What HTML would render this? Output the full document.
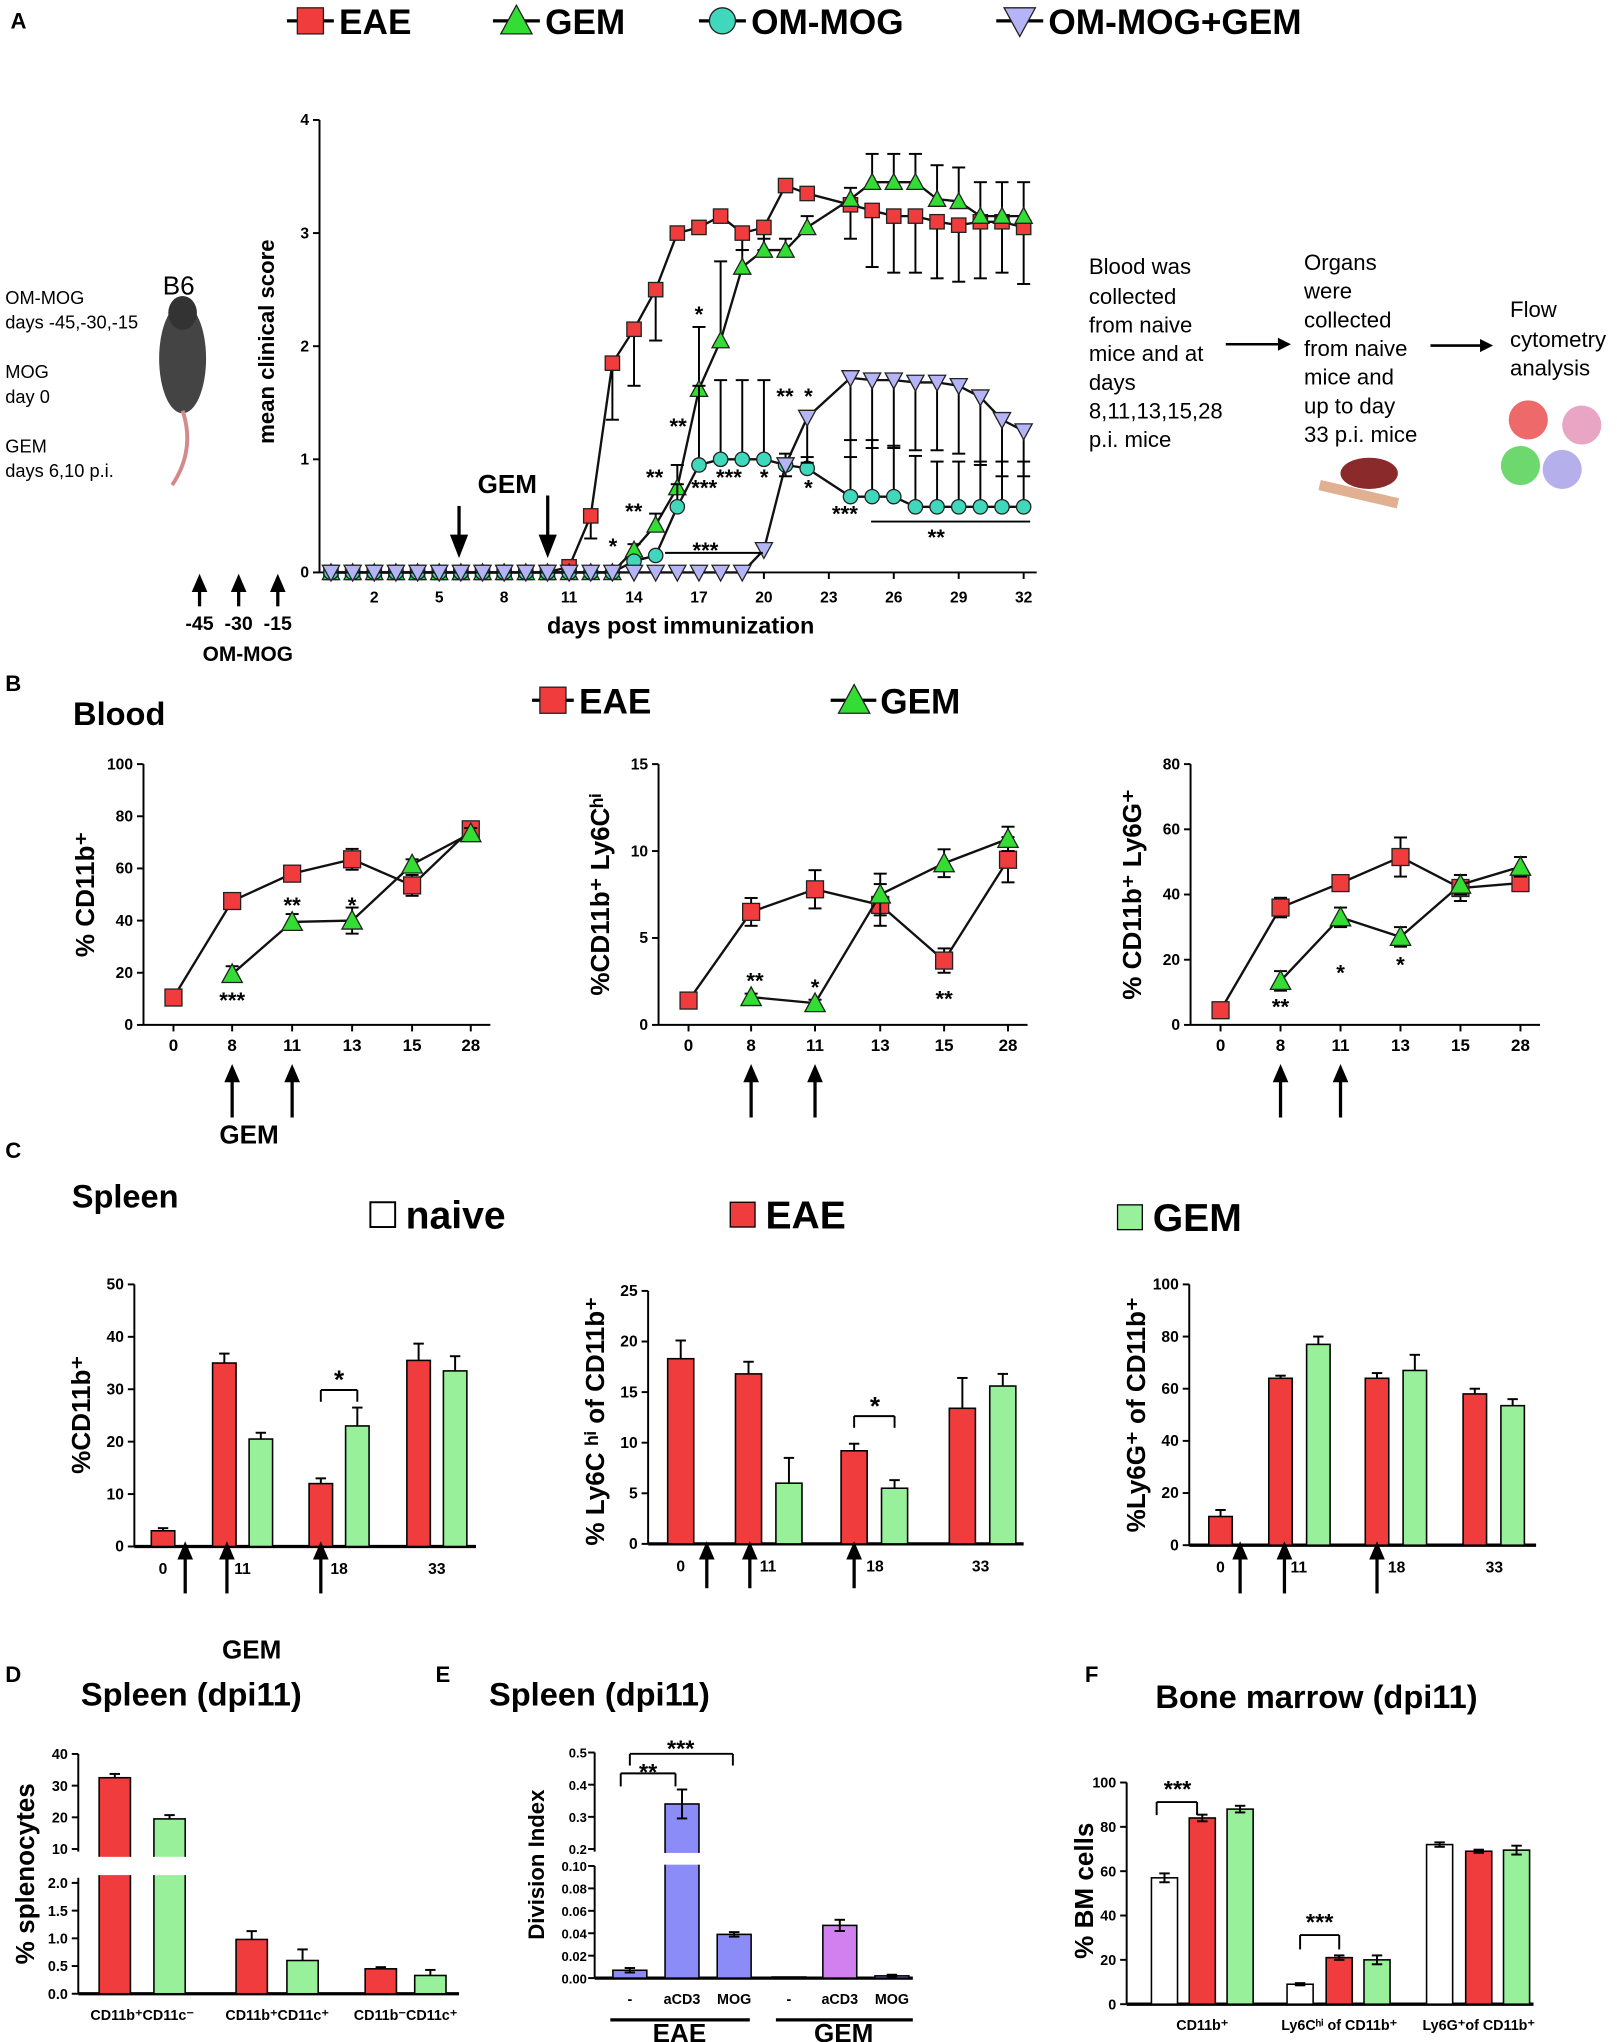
<!DOCTYPE html>
<html><head><meta charset="utf-8">
<style>
html,body{margin:0;padding:0;background:#fff;}
svg{display:block;font-family:"Liberation Sans",Arial,sans-serif;}
</style></head>
<body>
<svg id="fig" xmlns="http://www.w3.org/2000/svg" width="1617" height="2042" viewBox="0 0 1240 1566"></svg>
<script>
// ===== Panel A data =====
const daysA = [0,1,2,3,4,5,6,7,8,9,10,11,12,13,14,15,16,17,18,19,20,21,22,24,25,26,27,28,29,30,31,32];
const eaeA = [0,0,0,0,0,0,0,0,0,0,0,0.05,0.5,1.85,2.15,2.5,3.0,3.05,3.15,3.0,3.05,3.42,3.35,3.25,3.2,3.15,3.15,3.1,3.07,3.1,3.1,3.05];
const eaeErrA = [0,0,0,0,0,0,0,0,0,0,0,0.05,0.2,0.5,0.5,0.45,0.05,0.05,0.05,0.15,0.2,0.05,0.05,0.3,0.5,0.5,0.5,0.5,0.5,0.5,0.45,0.5];
const gemA = [0,0,0,0,0,0,0,0,0,0,0,0,0,0,0.2,0.42,0.75,1.62,2.05,2.7,2.85,2.85,3.05,3.3,3.45,3.45,3.45,3.3,3.28,3.15,3.15,3.15];
const gemErrA = [0,0,0,0,0,0,0,0,0,0,0,0,0,0,0.05,0.1,0.2,0.55,0.7,0.15,0.1,0.1,0.1,0.1,0.25,0.25,0.25,0.3,0.3,0.3,0.3,0.3];
const omA = [0,0,0,0,0,0,0,0,0,0,0,0,0,0,0.1,0.15,0.58,0.95,1.0,1.0,1.0,0.95,0.92,0.67,0.67,0.67,0.58,0.58,0.58,0.58,0.58,0.58];
const omErrA = [0,0,0,0,0,0,0,0,0,0,0,0,0,0,0,0,0.2,0.7,0.7,0.7,0.7,0.1,0.1,0.5,0.5,0.45,0.45,0.4,0.4,0.4,0.4,0.4];
const omgA = [0,0,0,0,0,0,0,0,0,0,0,0,0,0,0,0,0,0,0,0,0.2,0.95,1.37,1.72,1.7,1.7,1.68,1.68,1.65,1.55,1.35,1.25];
const omgErrA = [0,0,0,0,0,0,0,0,0,0,0,0,0,0,0,0,0,0,0,0,0,0.1,0.4,0.7,0.6,0.6,0.6,0.6,0.6,0.6,0.5,0.4];
const xTicksA = [2,5,8,11,14,17,20,23,26,29,32];
const yTicksA = [0,1,2,3,4];
// ===== Panel B data =====
const catsB = ['0','8','11','13','15','28'];
const b1EAE = [10.5,47.5,58,63.5,53.5,75];  const b1EAEerr=[1,2,2,4,4,2];
const b1GEM = [null,19.5,39.5,40,61.5,73.5]; const b1GEMerr=[0,3,3,5,2,2];
const b2EAE = [1.4,6.5,7.8,6.9,3.7,9.5];   const b2EAEerr=[0.2,0.8,1.1,1.2,0.7,1.3];
const b2GEM = [null,1.6,1.25,7.5,9.3,10.7];  const b2GEMerr=[0,0.2,0.2,1.2,0.8,0.7];
const b3EAE = [4.5,36,43.5,51.5,42,43.5];  const b3EAEerr=[1,3,2,6,4,2];
const b3GEM = [null,13.5,33,27,43,48.5];    const b3GEMerr=[0,3,3,3,3,3];
const b1Ticks=[0,20,40,60,80,100], b2Ticks=[0,5,10,15], b3Ticks=[0,20,40,60,80];
// ===== Panel C data =====
const catsC = ['0','11','18','33'];
const c1Naive=[3], c1EAE=[null,35,12,35.5], c1GEM=[null,20.5,23,33.5];
const c1EAEerr=[0.5,1.8,1,3.2], c1GEMerr=[0,1.2,3.5,2.8];
const c2EAE=[18.3,16.8,9.2,13.4], c2GEM=[null,6,5.5,15.6];
const c2EAEerr=[1.8,1.2,0.7,3], c2GEMerr=[0,2.5,0.8,1.2];
const c3EAE=[11,64,64,58], c3GEM=[null,77,67,53.5];
const c3EAEerr=[2.5,1,2,2], c3GEMerr=[0,3,6,2.5];
const c1Ticks=[0,10,20,30,40,50], c2Ticks=[0,5,10,15,20,25], c3Ticks=[0,20,40,60,80,100];
// ===== Panel D/E/F data =====
const catsD=['CD11b⁺CD11c⁻','CD11b⁺CD11c⁺','CD11b⁻CD11c⁺'];
const dEAE=[32.5,0.98,0.45], dGEM=[19.5,0.6,0.33];
const dEAEerr=[1.2,0.15,0.03], dGEMerr=[1.2,0.2,0.1];
const catsE=['-','aCD3','MOG','-','aCD3','MOG'];
const eVals=[0.007,0.34,0.039,0.001,0.047,0.002];
const eErr=[0.002,0.045,0.002,0,0.005,0.001];
const catsF=['CD11b⁺','Ly6Cʰⁱ of CD11b⁺','Ly6G⁺of CD11b⁺'];
const fNaive=[57,9,72], fEAE=[84,21,69], fGEM=[88,20,69.5];
const fNaiveErr=[2,0.5,1], fEAEerr=[1.5,1,0.7], fGEMerr=[1.5,2,2];

const NS='http://www.w3.org/2000/svg';
const svg=document.getElementById('fig');
const RED='#f03c3c', LG='#98f09a', TRI='#33dd33', TURQ='#40d8bc', LAV='#b4b4f6', BLUE='#8c8cf8', PURP='#d27ff0';
function mk(tag,a,name,p){const e=document.createElementNS(NS,tag);for(const k in a)e.setAttribute(k,a[k]);


(p||svg).appendChild(e);return e;}
function line(x1,y1,x2,y2,w,name,c){return mk('line',{x1,y1,x2,y2,stroke:c||'#000','stroke-width':w||1.5},name);}
function text(x,y,s,size,name,o){o=o||{};const t=mk('text',{x,y,'font-size':size,'font-weight':o.w||'bold','text-anchor':o.a||'middle',fill:o.f||'#000'},name);
if(o.rot)t.setAttribute('transform','rotate(-90 '+x+' '+y+')');t.textContent=s;return t;}
function marker(type,x,y,s,fill,name){
 if(type==='sq')return mk('rect',{x:x-s,y:y-s,width:2*s,height:2*s,fill,stroke:'#222','stroke-width':1},name);
 if(type==='up')return mk('polygon',{points:`${x},${y-s*1.2} ${x-s*1.2},${y+s} ${x+s*1.2},${y+s}`,fill,stroke:'#222','stroke-width':1},name);
 if(type==='dn')return mk('polygon',{points:`${x-s*1.2},${y-s} ${x+s*1.2},${y-s} ${x},${y+s*1.2}`,fill,stroke:'#222','stroke-width':1},name);
 return mk('circle',{cx:x,cy:y,r:s,fill,stroke:'#222','stroke-width':1},name);}
function errbar(x,y1,y2,cap,name){if(Math.abs(y2-y1)<0.5)return;line(x,y1,x,y2,1.5,name);line(x-cap,y2,x+cap,y2,1.5,name+'-cap');}
function arrow(x,y1,y2,name){line(x,y1,x,y2+4,2.5,name);mk('polygon',{points:`${x-6},${y2+12} ${x+6},${y2+12} ${x},${y2-2}`,fill:'#000'},name+'-head');}
function arrowDown(x,y1,y2,name){line(x,y1,x,y2-6,2.5,name);mk('polygon',{points:`${x-7},${y2-16} ${x+7},${y2-16} ${x},${y2+2}`,fill:'#000'},name+'-head');}
function yAxis(x,yTop,yBot,ticks,scale,name,fs){line(x,yTop,x,yBot,1.5,name);ticks.forEach(t=>{const y=scale(t);line(x-5,y,x,y,1.5,name+'-tick');text(x-8,y+4,String(t),fs||11,name+'-label',{a:'end'});});}

// ===== Panel labels =====
text(8,22,'A',17,'panel-a-label',{a:'start'});
text(4,530,'B',17,'panel-b-label',{a:'start'});
text(4,888,'C',17,'panel-c-label',{a:'start'});
text(4,1290,'D',17,'panel-d-label',{a:'start'});
text(334,1290,'E',17,'panel-e-label',{a:'start'});
text(832,1290,'F',17,'panel-f-label',{a:'start'});

// ===== Panel A legend =====
[['sq',RED,'EAE',220],['up',TRI,'GEM',378],['ci',TURQ,'OM-MOG',536],['dn',LAV,'OM-MOG+GEM',764]].forEach(l=>{
 line(l[3],16,l[3]+36,16,2.5,'legend-line');marker(l[0],l[3]+18,16,10,l[1],'legend-marker');
 text(l[3]+40,26,l[2],27,'legend-entry',{a:'start'});});

// ===== Panel A chart =====
const xA=d=>253.8+d*16.6, yA=v=>439-v*86.75;
yAxis(245,92,439,yTicksA,yA,'a-y-axis',12);
line(245,439,795,439,1.5,'a-x-axis');
xTicksA.forEach(t=>{line(xA(t),439,xA(t),444,1.5,'a-x-tick');text(xA(t),462,String(t),12,'a-x-label');});
text(210,262,'mean clinical score',17,'a-y-title',{rot:true});
text(522,486,'days post immunization',18,'a-x-title');
function seriesA(vals,errs,type,fill,name,dir){
 const pts=daysA.map((d,i)=>xA(d)+','+yA(vals[i])).join(' ');
 mk('polyline',{points:pts,fill:'none',stroke:'#111','stroke-width':1.8},name+'-line');
 daysA.forEach((d,i)=>{if(errs[i]>0)errbar(xA(d),yA(vals[i]),yA(vals[i]+dir*errs[i]),5,name+'-err');});
 daysA.forEach((d,i)=>marker(type,xA(d),yA(vals[i]),5.5,fill,name+'-point'));}
seriesA(eaeA,eaeErrA,'sq',RED,'eae-series',-1);
seriesA(gemA,gemErrA,'up',TRI,'gem-series',1);
seriesA(omA,omErrA,'ci',TURQ,'om-mog-series',1);
seriesA(omgA,omgErrA,'dn',LAV,'om-mog-gem-series',-1);
arrowDown(352,388,426,'gem-arrow');arrowDown(420,380,426,'gem-arrow');
text(389,378,'GEM',20,'gem-annotation');
[[470,425,'*'],[486,398,'**'],[502,372,'**'],[520,333,'**'],[536,247,'*'],[540,380,'***'],[559,372,'***'],[586,372,'*'],[602,310,'**'],[620,310,'*'],[620,380,'*'],[648,400,'***'],[718,418,'**'],[541,428,'***']].forEach(s=>text(s[0],s[1],s[2],17,'significance-star'));
line(510,424,585,424,1.5,'sig-bracket');line(668,400,790,400,1.5,'sig-bracket');
// left annotations
mk('ellipse',{cx:140,cy:275,rx:18,ry:42,fill:'#444'},'mouse-body');
mk('ellipse',{cx:140,cy:240,rx:11,ry:13,fill:'#333'},'mouse-head');
mk('path',{d:'M140 315 Q150 345 132 372',fill:'none',stroke:'#d48a8a','stroke-width':3},'mouse-tail');
text(137,226,'B6',20,'mouse-strain',{w:'normal'});
[['OM-MOG',233],['days -45,-30,-15',252],['MOG',290],['day 0',309],['GEM',347],['days 6,10 p.i.',366]].forEach(l=>text(4,l[1],l[0],14,'protocol-text',{a:'start',w:'normal'}));
[[153,'-45'],[183,'-30'],[213,'-15']].forEach(a=>{arrow(a[0],465,442,'om-mog-arrow');text(a[0],483,a[1],15,'om-mog-day');});
text(190,507,'OM-MOG',16,'om-mog-label');
// right annotations
[['Blood was',210],['collected',233],['from naive',255],['mice and at',277],['days',299],['8,11,13,15,28',321],['p.i. mice',343]].forEach(l=>text(835,l[1],l[0],17,'blood-text',{a:'start',w:'normal'}));
[['Organs',207],['were',229],['collected',251],['from naive',273],['mice and',295],['up to day',317],['33 p.i. mice',339]].forEach(l=>text(1000,l[1],l[0],17,'organs-text',{a:'start',w:'normal'}));
[['Flow',243],['cytometry',266],['analysis',288]].forEach(l=>text(1158,l[1],l[0],17,'flow-text',{a:'start',w:'normal'}));
line(940,264,980,264,2,'flow-arrow');mk('polygon',{points:'980,259 990,264 980,269',fill:'#000'},'flow-arrow-head');
line(1097,265,1135,265,2,'flow-arrow');mk('polygon',{points:'1135,260 1145,265 1135,270',fill:'#000'},'flow-arrow-head');
mk('ellipse',{cx:1050,cy:363,rx:22,ry:12,fill:'#8b2a2a'},'spleen-icon');
mk('path',{d:'M1012 372 L1072 386',stroke:'#e0b090','stroke-width':8,fill:'none'},'bone-icon');
[[1172,322,'#ee6a6a'],[1213,326,'#e9a6c4'],[1166,357,'#6dd86d'],[1198,360,'#b5b0ec']].forEach(c=>mk('circle',{cx:c[0],cy:c[1],r:15,fill:c[2]},'cell-icon'));

// ===== Panel B =====
line(408,537,440,537,2.5,'b-legend-line');marker('sq',424,537,10,RED,'b-legend-marker');text(444,547,'EAE',27,'b-legend-entry',{a:'start'});
line(637,537,672,537,2.5,'b-legend-line');marker('up',655,537,10,TRI,'b-legend-marker');text(675,547,'GEM',27,'b-legend-entry',{a:'start'});
text(56,556,'Blood',25,'blood-title',{a:'start'});
function lineChart(cfg){
 const y=v=>786-v/cfg.max*200;
 yAxis(cfg.ax,586,786,cfg.ticks,y,cfg.name+'-y-axis',12);
 line(cfg.ax,786,cfg.xs[5]+15,786,1.5,cfg.name+'-x-axis');
 cfg.xs.forEach((x,i)=>{line(x,786,x,791,1.5,cfg.name+'-x-tick');text(x,806,catsB[i],13,cfg.name+'-x-label');});
 text(cfg.ax-38,686,cfg.title,20,cfg.name+'-y-title',{rot:true});
 [[cfg.eae,cfg.eaeErr,'sq',RED,'eae'],[cfg.gem,cfg.gemErr,'up',TRI,'gem']].forEach(s=>{
  const pts=cfg.xs.map((x,i)=>s[0][i]==null?null:x+','+y(s[0][i])).filter(p=>p).join(' ');
  mk('polyline',{points:pts,fill:'none',stroke:'#111','stroke-width':1.8},cfg.name+'-'+s[4]+'-line');
  cfg.xs.forEach((x,i)=>{if(s[0][i]==null)return;errbar(x,y(s[0][i]),y(s[0][i]+s[1][i]),5,cfg.name+'-err');errbar(x,y(s[0][i]),y(s[0][i]-s[1][i]),5,cfg.name+'-err');marker(s[2],x,y(s[0][i]),6.5,s[3],cfg.name+'-'+s[4]+'-point');});});
 arrow(cfg.xs[1],857,818,cfg.name+'-arrow');arrow(cfg.xs[2],857,818,cfg.name+'-arrow');
 cfg.stars.forEach(s=>text(s[0],s[1],s[2],17,cfg.name+'-star'));}
lineChart({name:'b1',ax:110,max:100,ticks:b1Ticks,xs:[133,178,224,270,316,361],eae:b1EAE,eaeErr:b1EAEerr,gem:b1GEM,gemErr:b1GEMerr,title:'% CD11b⁺',stars:[[178,773,'***'],[224,700,'**'],[270,700,'*']]});
text(191,877,'GEM',20,'b-gem-label');
lineChart({name:'b2',ax:505,max:15,ticks:b2Ticks,xs:[528,576,625,675,724,773],eae:b2EAE,eaeErr:b2EAEerr,gem:b2GEM,gemErr:b2GEMerr,title:'%CD11b⁺ Ly6Cʰⁱ',stars:[[579,758,'**'],[625,763,'*'],[724,772,'**']]});
lineChart({name:'b3',ax:913,max:80,ticks:b3Ticks,xs:[936,982,1028,1074,1120,1166],eae:b3EAE,eaeErr:b3EAEerr,gem:b3GEM,gemErr:b3GEMerr,title:'% CD11b⁺ Ly6G⁺',stars:[[982,778,'**'],[1028,752,'*'],[1074,746,'*']]});

// ===== Panel C =====
text(55,926,'Spleen',25,'spleen-title',{a:'start'});
mk('rect',{x:284,y:922,width:19,height:19,fill:'#fff',stroke:'#000','stroke-width':1.5},'c-legend-naive');text(311,942,'naive',30,'c-legend-entry',{a:'start'});
mk('rect',{x:560,y:922,width:19,height:19,fill:RED,stroke:'#000','stroke-width':1},'c-legend-eae');text(587,942,'EAE',30,'c-legend-entry',{a:'start'});
mk('rect',{x:857,y:924,width:19,height:19,fill:LG,stroke:'#000','stroke-width':1},'c-legend-gem');text(884,944,'GEM',30,'c-legend-entry',{a:'start'});
function barChart(cfg){
 const y=v=>cfg.base-v/cfg.max*(cfg.base-cfg.top);
 yAxis(cfg.ax,cfg.top,cfg.base,cfg.ticks,y,cfg.name+'-y-axis',12);
 line(cfg.ax,cfg.base,cfg.xEnd,cfg.base,2.5,cfg.name+'-x-axis');
 cfg.series.forEach(s=>{s.vals.forEach((v,i)=>{if(v==null)return;const x=s.xs[i];
  mk('rect',{x:x-cfg.bw/2,y:y(v),width:cfg.bw,height:cfg.base-y(v),fill:s.fill,stroke:'#000','stroke-width':1.2},cfg.name+'-bar');
  errbar(x,y(v),y(v+s.err[i]),4,cfg.name+'-err');});});
 cfg.labels.forEach((l,i)=>text(l,cfg.base+21,catsC[i],12,cfg.name+'-x-label'));
 text(cfg.ax-34,cfg.ytc,cfg.title,20,cfg.name+'-y-title',{rot:true});}
barChart({name:'c1',ax:103,top:985,base:1186,max:50,ticks:c1Ticks,xEnd:365,bw:18,ytc:1085,title:'%CD11b⁺',labels:[125,186,260,335],
 series:[{vals:[c1Naive[0],c1EAE[1],c1EAE[2],c1EAE[3]],err:c1EAEerr,xs:[125,172,246,321],fill:RED},{vals:c1GEM,err:c1GEMerr,xs:[0,200,274,349],fill:LG}]});
barChart({name:'c2',ax:497,top:990,base:1184,max:25,ticks:c2Ticks,xEnd:785,bw:20,ytc:1090,title:'% Ly6C ʰⁱ of CD11b⁺',labels:[522,589,671,752],
 series:[{vals:c2EAE,err:c2EAEerr,xs:[522,574,655,738],fill:RED},{vals:c2GEM,err:c2GEMerr,xs:[0,605,686,769],fill:LG}]});
barChart({name:'c3',ax:912,top:985,base:1185,max:100,ticks:c3Ticks,xEnd:1178,bw:18,ytc:1085,title:'%Ly6G⁺ of CD11b⁺',labels:[936,996,1071,1146],
 series:[{vals:c3EAE,err:c3EAEerr,xs:[936,982,1056,1131],fill:RED},{vals:c3GEM,err:c3GEMerr,xs:[0,1011,1085,1160],fill:LG}]});
[[142,1222],[174,1222],[246,1222],[542,1218],[575,1218],[655,1218],[951,1222],[985,1222],[1056,1222]].forEach(a=>arrow(a[0],a[1],1184,'c-arrow'));
text(193,1272,'GEM',20,'c-gem-label');
line(246,1075,246,1066,1.5,'c-sig');line(246,1066,274,1066,1.5,'c-sig');line(274,1066,274,1075,1.5,'c-sig');text(260,1065,'*',20,'c-star');
line(655,1095,655,1086,1.5,'c-sig');line(655,1086,686,1086,1.5,'c-sig');line(686,1086,686,1095,1.5,'c-sig');text(671,1085,'*',20,'c-star');

// ===== Panel D =====
text(62,1308,'Spleen (dpi11)',25,'d-title',{a:'start'});
const dHi=v=>1418-(v-10)*2.43, dLo=v=>1529-v*42.5;
const dY=v=>v>2?dHi(v):dLo(v);
line(60,1345,60,1420,1.5,'d-y-axis-upper');line(60,1440,60,1529,1.5,'d-y-axis-lower');
[10,20,30,40].forEach(t=>{line(55,dHi(t),60,dHi(t),1.5,'d-tick');text(52,dHi(t)+4,String(t),11,'d-tick-label',{a:'end'});});
['0.0','0.5','1.0','1.5','2.0'].forEach(t=>{line(55,dLo(+t),60,dLo(+t),1.5,'d-tick');text(52,dLo(+t)+4,t,11,'d-tick-label',{a:'end'});});
line(60,1529,352,1529,2.5,'d-x-axis');
const dX=[[88,130],[193,232],[292,330]];
catsD.forEach((c,i)=>{[[dEAE,dEAEerr,RED,0],[dGEM,dGEMerr,LG,1]].forEach(s=>{const x=dX[i][s[3]],v=s[0][i];
 mk('rect',{x:x-12,y:dY(v),width:24,height:1529-dY(v),fill:s[2],stroke:'#000','stroke-width':1.2},'d-bar');
 errbar(x,dY(v),dY(v+s[1][i]),4,'d-err');});
 text((dX[i][0]+dX[i][1])/2,1549,c,11,'d-x-label');});
mk('rect',{x:50,y:1424,width:150,height:14,fill:'#fff'},'d-axis-break');
text(26,1437,'% splenocytes',20,'d-y-title',{rot:true});

// ===== Panel E =====
text(375,1308,'Spleen (dpi11)',25,'e-title',{a:'start'});
const eHi=v=>1418-(v-0.2)*246.7, eLo=v=>1517-v*860;
const eY=v=>v>0.1?eHi(v):eLo(v);
line(456,1344,456,1420,1.5,'e-y-axis-upper');line(456,1431,456,1517,1.5,'e-y-axis-lower');
['0.2','0.3','0.4','0.5'].forEach(t=>{line(451,eHi(+t),456,eHi(+t),1.5,'e-tick');text(450,eHi(+t)+4,t,10,'e-tick-label',{a:'end'});});
['0.00','0.02','0.04','0.06','0.08','0.10'].forEach(t=>{line(451,eLo(+t),456,eLo(+t),1.5,'e-tick');text(450,eLo(+t)+4,t,10,'e-tick-label',{a:'end'});});
line(456,1517,700,1517,2.5,'e-x-axis');
const eX=[483,523,563,605,644,684], eCol=[BLUE,BLUE,BLUE,BLUE,PURP,BLUE];
catsE.forEach((c,i)=>{const v=eVals[i];
 mk('rect',{x:eX[i]-13,y:eY(v),width:26,height:1517-eY(v),fill:eCol[i],stroke:'#000','stroke-width':1.2},'e-bar');
 errbar(eX[i],eY(v),eY(v+eErr[i]),4,'e-err');errbar(eX[i],eY(v),eY(v-eErr[i]),4,'e-err');
 text(eX[i],1537,c,11,'e-x-label');});
mk('rect',{x:505,y:1421,width:40,height:9,fill:'#fff'},'e-axis-break');
line(468,1549,575,1549,2.5,'e-group-line');line(595,1549,700,1549,2.5,'e-group-line');
text(521,1566,'EAE',20,'e-group-eae');text(647,1566,'GEM',20,'e-group-gem');
text(417,1430,'Division Index',17,'e-y-title',{rot:true});
line(476,1370,476,1360,1.5,'e-sig');line(476,1360,518,1360,1.5,'e-sig');line(518,1360,518,1370,1.5,'e-sig');text(497,1365,'**',18,'e-star');
line(483,1354,483,1345,1.5,'e-sig');line(483,1345,562,1345,1.5,'e-sig');line(562,1345,562,1354,1.5,'e-sig');text(522,1347,'***',18,'e-star');

// ===== Panel F =====
text(886,1310,'Bone marrow (dpi11)',25,'f-title',{a:'start'});
const fY=v=>1537-v*1.7;
yAxis(864,1367,1537,[0,20,40,60,80,100],fY,'f-y-axis',11);
line(864,1537,1176,1537,2.5,'f-x-axis');
const fX=[[893,922,951],[997,1027,1056],[1104,1134,1163]];
catsF.forEach((c,i)=>{[[fNaive,fNaiveErr,'#fff'],[fEAE,fEAEerr,RED],[fGEM,fGEMerr,LG]].forEach((s,j)=>{const x=fX[i][j],v=s[0][i];
 mk('rect',{x:x-10,y:fY(v),width:20,height:1537-fY(v),fill:s[2],stroke:'#000','stroke-width':1.2},'f-bar');
 errbar(x,fY(v),fY(v+s[1][i]),4,'f-err');errbar(x,fY(v),fY(v-s[1][i]),4,'f-err');});
 text(fX[i][1],1557,c,11,'f-x-label');});
text(838,1450,'% BM cells',20,'f-y-title',{rot:true});
line(887,1392,887,1382,1.5,'f-sig');line(887,1382,918,1382,1.5,'f-sig');line(918,1382,918,1392,1.5,'f-sig');text(903,1378,'***',18,'f-star');
line(997,1495,997,1484,1.5,'f-sig');line(997,1484,1027,1484,1.5,'f-sig');line(1027,1484,1027,1495,1.5,'f-sig');text(1012,1480,'***',18,'f-star');
</script>
</body></html>
